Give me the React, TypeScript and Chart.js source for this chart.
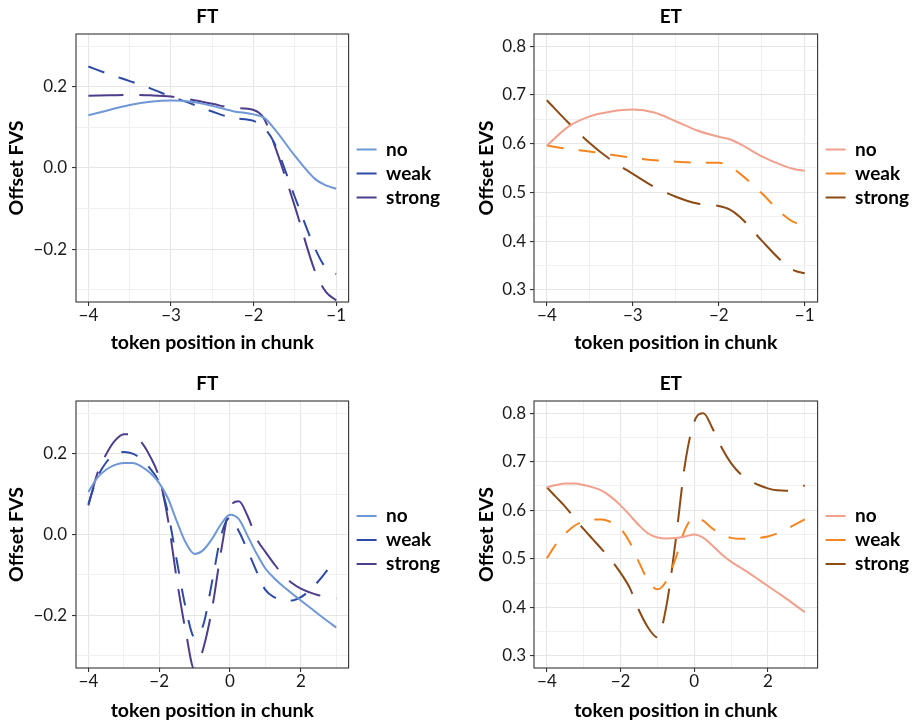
import React, { useEffect, useRef } from "react";
import { Chart, registerables } from "chart.js";

Chart.register(...registerables);

const FONT = "Lato, 'Open Sans', sans-serif";

// ---- data -------------------------------------------------------------
const seriesNames = ["no", "weak", "strong"];

const xTop = [-4, -3.75, -3.5, -3.25, -3, -2.75, -2.5, -2.25, -2, -1.875, -1.75, -1.5, -1.25, -1.125, -1];
const xBottom = [
  -4, -3.75, -3.5, -3.25, -3, -2.75, -2.5, -2.25, -2, -1.75, -1.5, -1.25, -1, -0.75, -0.5,
  -0.25, 0, 0.25, 0.5, 0.75, 1, 1.25, 1.5, 1.75, 2, 2.25, 2.5, 2.75, 3,
];

const ftTopNo = [0.130, 0.143, 0.155, 0.163, 0.166, 0.163, 0.153, 0.140, 0.132, 0.124, 0.097, 0.030, -0.028, -0.043, -0.051];
const ftTopWeak = [0.250, 0.231, 0.214, 0.196, 0.176, 0.158, 0.139, 0.123, 0.116, 0.099, 0.062, -0.072, -0.201, -0.246, -0.261];
const ftTopStrong = [0.178, 0.179, 0.180, 0.179, 0.176, 0.168, 0.158, 0.148, 0.143, 0.122, 0.058, -0.095, -0.258, -0.305, -0.326];

const etTopNo = [0.596, 0.635, 0.656, 0.666, 0.670, 0.664, 0.646, 0.627, 0.614, 0.609, 0.599, 0.574, 0.555, 0.548, 0.544];
const etTopWeak = [0.596, 0.589, 0.584, 0.577, 0.571, 0.566, 0.563, 0.561, 0.561, 0.553, 0.538, 0.498, 0.454, 0.439, 0.434];
const etTopStrong = [0.689, 0.643, 0.601, 0.566, 0.538, 0.511, 0.491, 0.477, 0.472, 0.465, 0.449, 0.401, 0.356, 0.340, 0.334];

const ftBottomNo = [
  0.105, 0.140, 0.160, 0.172, 0.177, 0.177, 0.168, 0.152, 0.127, 0.089, 0.032, -0.020, -0.048, -0.038, -0.010,
  0.026, 0.049, 0.038, -0.004, -0.047, -0.084, -0.108, -0.128, -0.146, -0.163, -0.180, -0.197, -0.214, -0.230,
];
const ftBottomWeak = [
  0.076, 0.140, 0.178, 0.198, 0.204, 0.200, 0.186, 0.162, 0.128, 0.053, -0.066, -0.182, -0.254, -0.222, -0.114,
  -0.002, 0.042, 0.008, -0.040, -0.091, -0.137, -0.155, -0.161, -0.163, -0.155, -0.138, -0.115, -0.088, -0.062,
];
const ftBottomStrong = [
  0.072, 0.150, 0.198, 0.232, 0.248, 0.246, 0.228, 0.192, 0.140, 0.036, -0.113, -0.240, -0.335, -0.280, -0.180,
  -0.040, 0.068, 0.082, 0.045, -0.010, -0.043, -0.073, -0.100, -0.120, -0.134, -0.143, -0.150, -0.155, -0.158,
];

const etBottomNo = [
  0.647, 0.652, 0.655, 0.655, 0.652, 0.647, 0.640, 0.627, 0.610, 0.590, 0.569, 0.552, 0.544, 0.542, 0.543,
  0.546, 0.550, 0.543, 0.527, 0.509, 0.494, 0.482, 0.470, 0.457, 0.444, 0.431, 0.418, 0.404, 0.390,
];
const etBottomWeak = [
  0.501, 0.530, 0.552, 0.568, 0.577, 0.581, 0.581, 0.575, 0.562, 0.534, 0.493, 0.455, 0.437, 0.455, 0.502,
  0.560, 0.585, 0.578, 0.562, 0.550, 0.543, 0.541, 0.541, 0.543, 0.546, 0.552, 0.561, 0.571, 0.581,
];
const etBottomStrong = [
  0.647, 0.627, 0.607, 0.584, 0.561, 0.540, 0.519, 0.497, 0.471, 0.440, 0.394, 0.358, 0.338, 0.405, 0.540,
  0.695, 0.782, 0.800, 0.768, 0.728, 0.697, 0.675, 0.661, 0.652, 0.645, 0.641, 0.640, 0.643, 0.651,
];

// tick values (major ones get labels, minor ones only a grid line)
const xMajorTop = [-4, -3, -2, -1];
const xMinorTop = [-3.5, -2.5, -1.5];
const xMajorBottom = [-4, -2, 0, 2];
const xMinorBottom = [-3, -1, 1, 3];
const ftYMajor = [-0.2, 0, 0.2];
const ftYMinor = [-0.3, -0.1, 0.1, 0.3];
const etYMajor = [0.3, 0.4, 0.5, 0.6, 0.7, 0.8];
const etYMinor = [0.35, 0.45, 0.55, 0.65, 0.75];

// ---- styling ------------------------------------------------------------
const ftColors = ["#6f97d6", "#2d4ba3", "#4e3c8c"];
const etColors = ["#f0a08c", "#f58520", "#8c4a14"];
const dashes = [[], [17, 15], [35, 16]];

const TITLE_SIZE = 19;
const AXIS_TITLE_SIZE = 19.5;
const TICK_SIZE = 17;
const LEGEND_SIZE = 19;
const LEGEND_BOX = 20;
const LEGEND_PAD = 5;
const LEGEND_GAP = 3;
const TICK_LEN = 4;

type Geom = {
  canvasLeft: number;
  canvasTop: number;
  canvasH: number;
  plotLeft: number;
  plotRight: number;
  plotTop: number;
  plotBottom: number;
  titleCenter: number;
  xTitleCenter: number;
  yTitleCenter: number;
  yTickPad: number;
};

type PanelSpec = {
  title: string;
  yLabel: string;
  xs: number[];
  series: number[][];
  colors: string[];
  xMin: number;
  xMax: number;
  xMajor: number[];
  xMinor: number[];
  yMin: number;
  yMax: number;
  yMajor: number[];
  yMinor: number[];
  geom: Geom;
};

const leftCol = { canvasLeft: 0, plotLeft: 76, plotRight: 345, yTitleCenter: 17, yTickPad: 5 };
const rightCol = { canvasLeft: 455, plotLeft: 534, plotRight: 814, yTitleCenter: 486.7, yTickPad: 4 };
const topRow = { canvasTop: -7, canvasH: 361, plotTop: 34, plotBottom: 302, titleCenter: 17.3, xTitleCenter: 343 };
const bottomRow = { canvasTop: 358, canvasH: 364, plotTop: 401, plotBottom: 668, titleCenter: 384, xTitleCenter: 710.7 };

const panels: PanelSpec[] = [
  {
    title: "FT", yLabel: "Offset FVS", xs: xTop, series: [ftTopNo, ftTopWeak, ftTopStrong], colors: ftColors,
    xMin: -4.15, xMax: -0.85, xMajor: xMajorTop, xMinor: xMinorTop,
    yMin: -0.33, yMax: 0.33, yMajor: ftYMajor, yMinor: ftYMinor,
    geom: { ...leftCol, ...topRow },
  },
  {
    title: "ET", yLabel: "Offset EVS", xs: xTop, series: [etTopNo, etTopWeak, etTopStrong], colors: etColors,
    xMin: -4.15, xMax: -0.85, xMajor: xMajorTop, xMinor: xMinorTop,
    yMin: 0.275, yMax: 0.825, yMajor: etYMajor, yMinor: etYMinor,
    geom: { ...rightCol, ...topRow },
  },
  {
    title: "FT", yLabel: "Offset FVS", xs: xBottom, series: [ftBottomNo, ftBottomWeak, ftBottomStrong], colors: ftColors,
    xMin: -4.35, xMax: 3.35, xMajor: xMajorBottom, xMinor: xMinorBottom,
    yMin: -0.33, yMax: 0.33, yMajor: ftYMajor, yMinor: ftYMinor,
    geom: { ...leftCol, ...bottomRow },
  },
  {
    title: "ET", yLabel: "Offset EVS", xs: xBottom, series: [etBottomNo, etBottomWeak, etBottomStrong], colors: etColors,
    xMin: -4.35, xMax: 3.35, xMajor: xMajorBottom, xMinor: xMinorBottom,
    yMin: 0.275, yMax: 0.825, yMajor: etYMajor, yMinor: etYMinor,
    geom: { ...rightCol, ...bottomRow },
  },
];

// ---- helpers ------------------------------------------------------------
const has = (arr: number[], v: number) => arr.some((a) => Math.abs(a - v) < 1e-9);

const fmt = (v: number, digits: number) =>
  (v < -1e-9 ? "\u2212" : "") + Math.abs(v).toFixed(digits);

function legendWidth(): number {
  const ctx = document.createElement("canvas").getContext("2d")!;
  ctx.font = `bold ${LEGEND_SIZE}px ${FONT}`;
  const maxText = Math.max(...seriesNames.map((s) => ctx.measureText(s).width));
  // matches Chart.js legend fit: padding + box + half font + text + 10
  return LEGEND_PAD + LEGEND_BOX + LEGEND_SIZE / 2 + maxText + 10;
}

// panel frame drawn over the data, like a bordered facet
const panelFrame = {
  id: "panelFrame",
  afterDraw(chart: any) {
    const { ctx, chartArea: a } = chart;
    ctx.save();
    ctx.strokeStyle = "#333333";
    ctx.lineWidth = 1.1;
    ctx.strokeRect(a.left, a.top, a.right - a.left, a.bottom - a.top);
    ctx.restore();
  },
};

// small offsets: legend sits a few pixels right of the panel, title slightly left of its centre
const boxNudge = {
  id: "boxNudge",
  afterLayout(chart: any) {
    const lg = chart.legend;
    if (lg) {
      const dx = chart.chartArea.right + LEGEND_GAP - lg.left;
      lg.left += dx;
      lg.right += dx;
    }
    const tb = chart.titleBlock;
    if (tb) {
      tb.left -= 5;
      tb.right -= 5;
    }
  },
};

function gridOpts(major: number[]) {
  return {
    display: true,
    drawOnChartArea: true,
    drawTicks: true,
    tickLength: TICK_LEN,
    color: (c: any) => (c.tick && has(major, c.tick.value) ? "#e6e6e6" : "#f0f0f0"),
    lineWidth: (c: any) => (c.tick && has(major, c.tick.value) ? 1.1 : 1),
    tickColor: (c: any) => (c.tick && has(major, c.tick.value) ? "#333333" : "rgba(0,0,0,0)"),
    tickWidth: 1.1,
  };
}

function makeConfig(p: PanelSpec): any {
  const g = p.geom;
  const titleLH = TITLE_SIZE * 1.2;
  const titleBoxH = g.plotTop - g.canvasTop;
  const titlePadTop = g.titleCenter - g.canvasTop - titleLH / 2;
  const titlePadBottom = titleBoxH - titleLH - titlePadTop;
  const axisLH = AXIS_TITLE_SIZE * 1.2;
  const canvasBottom = g.canvasTop + g.canvasH;
  const xAxisH = canvasBottom - g.plotBottom;
  const xTitlePadBottom = canvasBottom - g.xTitleCenter - axisLH / 2;
  const yAxisW = g.plotLeft - g.canvasLeft;
  const yTitlePadTop = g.yTitleCenter - g.canvasLeft - axisLH / 2;

  const datasets = p.series.map((ys, i) => ({
    label: seriesNames[i],
    data: p.xs.map((x, j) => ({ x, y: ys[j] })),
    borderColor: p.colors[i],
    backgroundColor: p.colors[i],
    borderWidth: 2,
    borderDash: dashes[i],
    borderCapStyle: "butt",
    pointRadius: 0,
    pointHoverRadius: 0,
    cubicInterpolationMode: "monotone",
    fill: false,
  }));

  return {
    type: "line",
    data: { datasets },
    options: {
      responsive: false,
      animation: false,
      devicePixelRatio: 1,
      events: [],
      layout: { padding: 0 },
      plugins: {
        title: {
          display: true,
          text: p.title,
          fullSize: false,
          color: "#000000",
          font: { family: FONT, size: TITLE_SIZE, weight: "bold" },
          padding: { top: titlePadTop, bottom: titlePadBottom },
        },
        legend: {
          display: true,
          position: "right",
          align: "center",
          labels: {
            color: "#000000",
            font: { family: FONT, size: LEGEND_SIZE, weight: "bold" },
            boxWidth: LEGEND_BOX,
            boxHeight: 2,
            padding: LEGEND_PAD,
            generateLabels: (chart: any) =>
              chart.data.datasets.map((ds: any, i: number) => ({
                text: ds.label,
                fillStyle: ds.borderColor,
                strokeStyle: ds.borderColor,
                lineWidth: 0,
                hidden: false,
                datasetIndex: i,
              })),
          },
        },
        tooltip: { enabled: false },
      },
      scales: {
        x: {
          type: "linear",
          position: "bottom",
          min: p.xMin,
          max: p.xMax,
          afterBuildTicks: (s: any) => {
            s.ticks = [...p.xMajor, ...p.xMinor].sort((a, b) => a - b).map((v) => ({ value: v }));
          },
          afterFit: (s: any) => {
            s.height = xAxisH;
          },
          border: { display: false },
          grid: gridOpts(p.xMajor),
          ticks: {
            autoSkip: false,
            maxRotation: 0,
            padding: -1,
            color: "#1a1a1a",
            font: { family: FONT, size: TICK_SIZE },
            callback: (v: number) => (has(p.xMajor, v) ? fmt(v, 0) : ""),
          },
          title: {
            display: true,
            text: "token position in chunk",
            color: "#000000",
            font: { family: FONT, size: AXIS_TITLE_SIZE, weight: "bold" },
            padding: { top: 0, bottom: xTitlePadBottom },
          },
        },
        y: {
          type: "linear",
          position: "left",
          min: p.yMin,
          max: p.yMax,
          afterBuildTicks: (s: any) => {
            s.ticks = [...p.yMajor, ...p.yMinor].sort((a, b) => a - b).map((v) => ({ value: v }));
          },
          afterFit: (s: any) => {
            s.width = yAxisW;
          },
          border: { display: false },
          grid: gridOpts(p.yMajor),
          ticks: {
            autoSkip: false,
            padding: g.yTickPad,
            color: "#1a1a1a",
            font: { family: FONT, size: TICK_SIZE },
            callback: (v: number) => (has(p.yMajor, v) ? fmt(v, 1) : ""),
          },
          title: {
            display: true,
            text: p.yLabel,
            color: "#000000",
            font: { family: FONT, size: AXIS_TITLE_SIZE, weight: "bold" },
            padding: { top: yTitlePadTop, bottom: 0 },
          },
        },
      },
    },
    plugins: [panelFrame, boxNudge],
  };
}

function Panel({ spec }: { spec: PanelSpec }) {
  const ref = useRef<HTMLCanvasElement>(null);
  const g = spec.geom;
  const canvasW = Math.ceil(g.plotRight - g.canvasLeft + legendWidth() + LEGEND_GAP);

  useEffect(() => {
    const canvas = ref.current;
    if (!canvas) return;
    const chart = new Chart(canvas, makeConfig(spec));
    return () => chart.destroy();
  }, [spec]);

  return (
    <canvas
      ref={ref}
      width={canvasW}
      height={g.canvasH}
      style={{
        position: "absolute",
        left: g.canvasLeft,
        top: g.canvasTop,
        width: canvasW,
        height: g.canvasH,
      }}
    />
  );
}

export default function App() {
  return (
    <div
      style={{
        position: "fixed",
        left: 0,
        top: 0,
        width: 915,
        height: 722,
        overflow: "hidden",
        background: "#ffffff",
      }}
    >
      {panels.map((p, i) => (
        <Panel key={i} spec={p} />
      ))}
    </div>
  );
}
